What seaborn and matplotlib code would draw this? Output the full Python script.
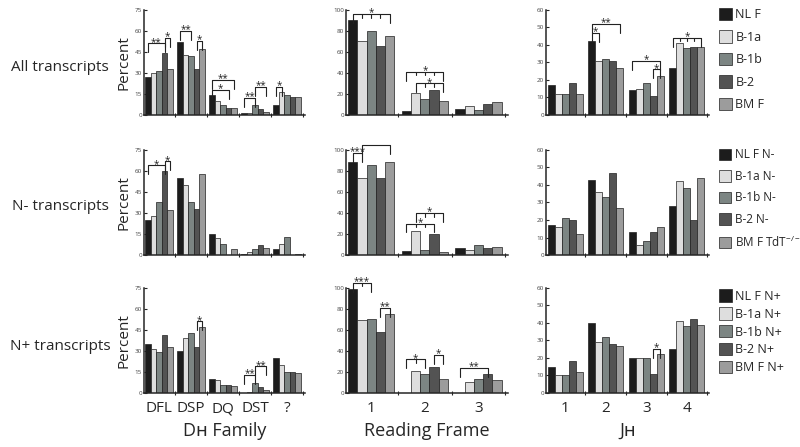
import pandas as pd
import matplotlib.pyplot as plt
import seaborn as sns

# categories
dh_groups = ['DFL', 'DSP', 'DQ', 'DST', '?']
rf_groups = ['1', '2', '3']
jh_groups = ['1', '2', '3', '4']

# sample labels per row
labels_all = ['NL F', 'B-1a', 'B-1b', 'B-2', 'BM F']
labels_nm = ['NL F N-', 'B-1a N-', 'B-1b N-', 'B-2 N-', 'BM F TdT$^{\\mathregular{-/-}}$']
labels_np = ['NL F N+', 'B-1a N+', 'B-1b N+', 'B-2 N+', 'BM F N+']

# percent values, one list per group (order: NL F, B-1a, B-1b, B-2, BM F)
dh_all = [[27, 30, 31, 44, 33], [52, 43, 42, 33, 47], [14, 10, 7, 5, 5],
          [1, 1, 7, 4, 2], [7, 16, 14, 13, 13]]
dh_nm = [[25, 28, 38, 60, 32], [55, 50, 38, 33, 58], [15, 12, 8, 0, 4],
         [1, 2, 4, 7, 5], [4, 8, 13, 0, 1]]
dh_np = [[35, 31, 29, 41, 33], [30, 39, 43, 33, 47], [10, 9, 6, 6, 5],
         [0, 1, 7, 4, 2], [25, 20, 15, 15, 14]]

rf_all = [[90, 70, 80, 66, 75], [4, 21, 15, 24, 13], [6, 8, 5, 10, 12]]
rf_nm = [[89, 73, 86, 73, 89], [4, 23, 5, 20, 3], [7, 5, 10, 7, 8]]
rf_np = [[99, 69, 70, 58, 75], [0, 21, 18, 25, 13], [0, 10, 13, 18, 12]]

jh_all = [[17, 12, 12, 18, 12], [42, 31, 32, 31, 27], [14, 15, 18, 11, 22], [27, 41, 38, 39, 39]]
jh_nm = [[17, 16, 21, 20, 12], [43, 36, 33, 47, 27], [13, 6, 8, 13, 16], [28, 42, 38, 20, 44]]
jh_np = [[15, 10, 10, 18, 12], [40, 29, 32, 28, 27], [20, 20, 20, 11, 22], [25, 41, 38, 42, 39]]

# significance brackets: (group, first bar, last bar, height, label, tick at each bar)
br_dh_all = [(0, 0, 3, 51, '**', False), (0, 3, 4, 55, '*', False), (1, 0, 2, 60, '**', False),
             (1, 3, 4, 53, '*', False), (2, 0, 4, 25, '**', False), (2, 0, 3, 18, '*', False),
             (3, 0, 2, 12, '**', False), (3, 2, 4, 20, '**', False), (4, 0, 1, 20, '*', False)]
br_rf_all = [(0, 0, 4, 96, '*', True), (1, 0, 4, 41, '*', True), (1, 1, 4, 30, '*', True)]
br_jh_all = [(1, 0, 4, 52, '**', False), (1, 0, 1, 47, '*', False), (2, 0, 4, 31, '*', False),
             (2, 3, 4, 26, '*', False), (3, 0, 4, 44, '*', True)]
br_dh_nm = [(0, 0, 3, 64, '*', False), (0, 3, 4, 67, '*', False)]
br_rf_nm = [(0, 0, 1, 97, '***', False), (0, 1, 4, 105, '', False),
            (1, 1, 4, 40, '*', True), (1, 0, 3, 30, '*', True)]
br_jh_nm = []
br_dh_np = [(1, 3, 4, 51, '*', False), (3, 0, 2, 13, '**', False), (3, 2, 4, 19, '**', False)]
br_rf_np = [(0, 0, 2, 105, '***', True), (0, 3, 4, 81, '**', False), (1, 0, 2, 32, '*', True),
            (1, 3, 4, 36, '*', False), (2, 0, 3, 24, '**', False)]
br_jh_np = [(2, 3, 4, 25, '*', False)]

palette = ['#1c1c1c', '#dedede', '#7b8684', '#535353', '#9c9c9c']

sns.set_style('ticks')
plt.rcParams['font.family'] = ['Open Sans', 'DejaVu Sans']

rows = [
    ('All transcripts', labels_all, [dh_all, rf_all, jh_all], [br_dh_all, br_rf_all, br_jh_all]),
    ('N- transcripts', labels_nm, [dh_nm, rf_nm, jh_nm], [br_dh_nm, br_rf_nm, br_jh_nm]),
    ('N+ transcripts', labels_np, [dh_np, rf_np, jh_np], [br_dh_np, br_rf_np, br_jh_np]),
]
col_groups = [dh_groups, rf_groups, jh_groups]
col_ymax = [75, 100, 60]
col_step = [15, 20, 10]
col_left = [0.180, 0.4325, 0.6825]
col_width = [0.201, 0.2025, 0.204]
row_bottom = [0.743, 0.4295, 0.121]
row_label_y = [0.848, 0.537, 0.224]
legend_top = [0.982, 0.668, 0.353]
legend_space = [0.72, 0.72, 0.36]
legend_size = [9, 8.5, 9]
xlabels = ['D\u029c Family', 'Reading Frame', 'J\u029c']

fig = plt.figure(figsize=(8, 4.47), dpi=100)

for r, (row_name, hue_labels, datasets, brackets) in enumerate(rows):
    fig.text(0.075, row_label_y[r], row_name, ha='center', va='center', fontsize=11)
    for c in range(3):
        groups = col_groups[c]
        vals = datasets[c]
        df = pd.DataFrame([(g, hue_labels[h], vals[i][h])
                           for i, g in enumerate(groups) for h in range(5)],
                          columns=['group', 'sample', 'value'])
        ax = fig.add_axes([col_left[c], row_bottom[r], col_width[c], 0.235])
        sns.barplot(data=df, x='group', y='value', hue='sample', order=groups,
                    hue_order=hue_labels, palette=palette, width=0.86, gap=0,
                    edgecolor='#202020', linewidth=0.5, ax=ax, legend=(c == 2))
        n = len(groups)
        ymax = col_ymax[c]
        ax.set_xlim(-0.47, n - 0.45)
        ax.set_ylim(0, ymax)
        ax.set_yticks(range(0, ymax + 1, col_step[c]))
        ax.tick_params(axis='y', labelsize=4.5, length=2, width=0.8, direction='in', pad=1.5,
                       labelcolor='#444444')
        ax.set_xticks(range(n))
        ax.set_xticks([i + 0.5 for i in range(n)], minor=True)
        ax.tick_params(axis='x', which='major', length=0, pad=6, labelsize=11)
        ax.tick_params(axis='x', which='minor', length=2.5, width=0.8, direction='inout')
        if r < 2:
            ax.set_xticklabels([])
            ax.set_xlabel('')
        else:
            ax.set_xlabel(xlabels[c], fontsize=13, labelpad=4)
        if c == 0:
            ax.set_ylabel('Percent', fontsize=11, labelpad=2)
        else:
            ax.set_ylabel('')
        for side in ['left', 'bottom']:
            ax.spines[side].set_linewidth(1.1)
        sns.despine(ax=ax)

        # significance brackets drawn from the bar positions
        leg = 0.085 * ymax
        for g, i, j, y, lab, ticks in brackets[c]:
            bi = ax.containers[i][g]
            bj = ax.containers[j][g]
            xi = bi.get_x() + bi.get_width() / 2
            xj = bj.get_x() + bj.get_width() / 2
            ax.plot([xi, xi, xj, xj], [y - leg, y, y, y - leg], color='#222222',
                    lw=0.8, clip_on=False)
            if ticks:
                for k in range(i + 1, j):
                    bk = ax.containers[k][g]
                    xk = bk.get_x() + bk.get_width() / 2
                    ax.plot([xk, xk], [y, y - leg * 0.4], color='#222222', lw=0.8, clip_on=False)
            if lab:
                ax.text((xi + xj) / 2, y + 0.01 * ymax, lab, ha='center', va='center',
                        fontsize=7, color='#222222')

        if c == 2:
            handles, labs = ax.get_legend_handles_labels()
            ax.get_legend().remove()
            fig.legend(handles, labs, loc='upper left', bbox_to_anchor=(0.899, legend_top[r]),
                       frameon=False, fontsize=legend_size[r], handlelength=1.0,
                       handleheight=1.15, handletextpad=0.3, labelspacing=legend_space[r],
                       borderaxespad=0, borderpad=0)

fig.savefig('out.png', dpi=100)
